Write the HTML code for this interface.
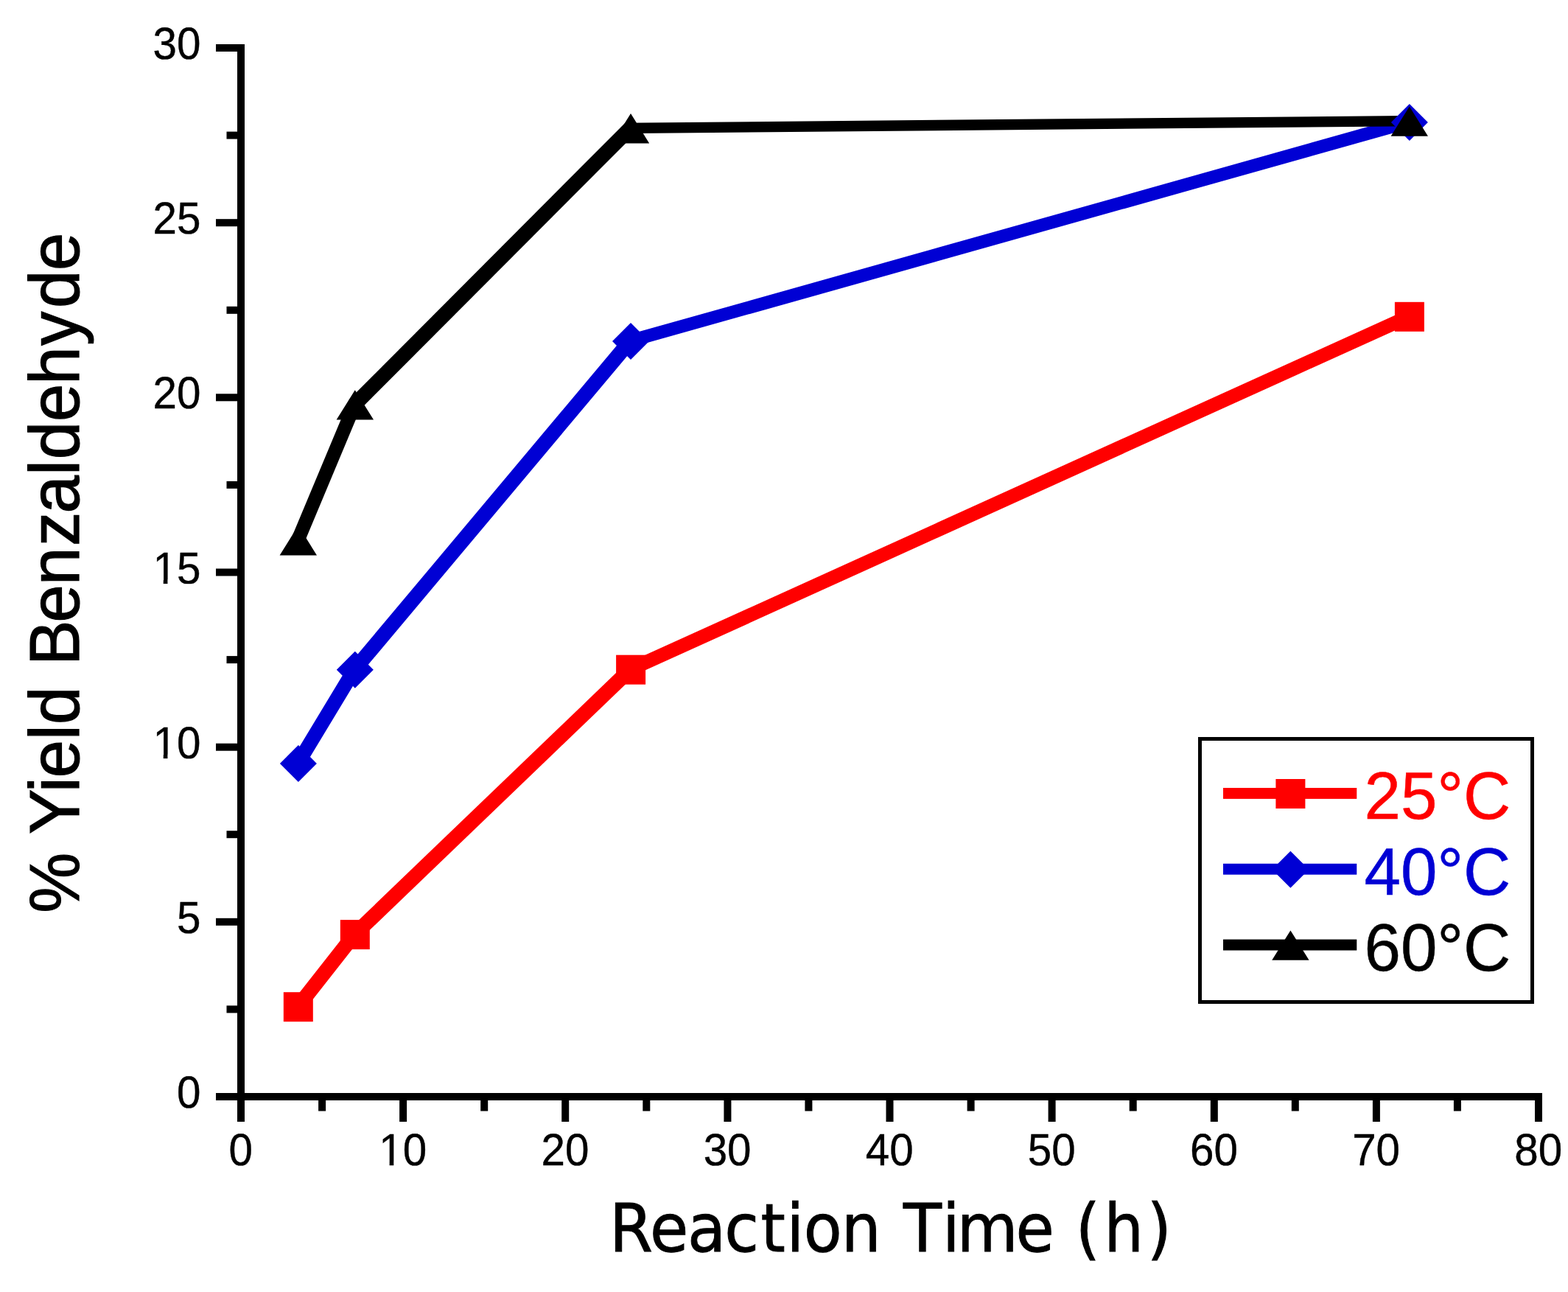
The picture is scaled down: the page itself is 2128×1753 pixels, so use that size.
<!DOCTYPE html>
<html lang="en">
<head>
<meta charset="utf-8">
<title>% Yield Benzaldehyde vs Reaction Time</title>
<style>
html,body{margin:0;padding:0;background:#fff;}
body{width:2128px;height:1753px;overflow:hidden;}
svg{display:block;}
</style>
</head>
<body>
<svg width="2128" height="1753" viewBox="0 0 2128 1753" shape-rendering="geometricPrecision" text-rendering="geometricPrecision">
<rect width="2128" height="1753" fill="#fff"/>
<g id="lines">
<polygon points="397.2,1372.8 397.2,1358.6 474.2,1260.5 488.4,1260.5 488.4,1274.7 411.4,1372.8" fill="#ff0000"/>
<polygon points="474.2,1274.7 474.2,1260.5 848.5,901.1 862.7,901.1 862.7,915.3 488.4,1274.7" fill="#ff0000"/>
<polygon points="848.5,915.3 848.5,901.1 1905.3,422.2 1919.5,422.2 1919.5,436.4 862.7,915.3" fill="#ff0000"/>
<polygon points="397.3,1042.5 397.3,1028.3 474.2,901.1 488.4,901.1 488.4,915.3 411.5,1042.5" fill="#0000d4"/>
<polygon points="474.2,915.3 474.2,901.1 848.4,455.3 862.6,455.3 862.6,469.5 488.4,915.3" fill="#0000d4"/>
<polygon points="848.4,469.5 848.4,455.3 1905.3,158.3 1919.5,158.3 1919.5,172.5 862.6,469.5" fill="#0000d4"/>
<polygon points="397.2,739.9 397.2,725.7 474.2,541.8 488.4,541.8 488.4,556 411.4,739.9" fill="#000000"/>
<polygon points="474.2,556 474.2,541.8 848.4,166.7 862.6,166.7 862.6,180.9 488.4,556" fill="#000000"/>
<polygon points="848.4,180.9 848.4,166.7 1905.2,157 1919.4,157 1919.4,171.2 862.6,180.9" fill="#000000"/>
</g>
<g id="markers">
<rect x="384.8" y="1346.2" width="40" height="40" fill="#ff0000"/>
<rect x="461.8" y="1248.1" width="40" height="40" fill="#ff0000"/>
<rect x="836.1" y="888.7" width="40" height="40" fill="#ff0000"/>
<rect x="1892.9" y="409.8" width="40" height="40" fill="#ff0000"/>
<polygon points="404.9,1010.9 429.9,1035.9 404.9,1060.9 379.9,1035.9" fill="#0000d4"/>
<polygon points="481.8,883.7 506.8,908.7 481.8,933.7 456.8,908.7" fill="#0000d4"/>
<polygon points="856,437.9 881,462.9 856,487.9 831,462.9" fill="#0000d4"/>
<polygon points="1912.9,140.9 1937.9,165.9 1912.9,190.9 1887.9,165.9" fill="#0000d4"/>
<polygon points="404.8,713.1 430,753.5 379.6,753.5" fill="#000000"/>
<polygon points="481.8,529.2 507,569.6 456.6,569.6" fill="#000000"/>
<polygon points="856,154.1 881.2,194.5 830.8,194.5" fill="#000000"/>
<polygon points="1912.8,144.4 1938,184.8 1887.6,184.8" fill="#000000"/>
</g>
<g id="axes" fill="#000">
<rect x="322" y="60" width="10" height="1433"/>
<rect x="293" y="1483" width="1800" height="10"/>
<rect x="307.5" y="1364.4" width="15.5" height="10"/>
<rect x="293" y="1245.8" width="30" height="10"/>
<rect x="307.5" y="1127.2" width="15.5" height="10"/>
<rect x="293" y="1008.7" width="30" height="10"/>
<rect x="307.5" y="890.1" width="15.5" height="10"/>
<rect x="293" y="771.5" width="30" height="10"/>
<rect x="307.5" y="652.9" width="15.5" height="10"/>
<rect x="293" y="534.3" width="30" height="10"/>
<rect x="307.5" y="415.8" width="15.5" height="10"/>
<rect x="293" y="297.2" width="30" height="10"/>
<rect x="307.5" y="178.6" width="15.5" height="10"/>
<rect x="293" y="60" width="30" height="10"/>
<rect x="322" y="1492" width="10" height="30"/>
<rect x="432.1" y="1492" width="10" height="15.5"/>
<rect x="542.1" y="1492" width="10" height="30"/>
<rect x="652.2" y="1492" width="10" height="15.5"/>
<rect x="762.2" y="1492" width="10" height="30"/>
<rect x="872.3" y="1492" width="10" height="15.5"/>
<rect x="982.4" y="1492" width="10" height="30"/>
<rect x="1092.4" y="1492" width="10" height="15.5"/>
<rect x="1202.5" y="1492" width="10" height="30"/>
<rect x="1312.6" y="1492" width="10" height="15.5"/>
<rect x="1422.6" y="1492" width="10" height="30"/>
<rect x="1532.7" y="1492" width="10" height="15.5"/>
<rect x="1642.8" y="1492" width="10" height="30"/>
<rect x="1752.8" y="1492" width="10" height="15.5"/>
<rect x="1862.9" y="1492" width="10" height="30"/>
<rect x="1972.9" y="1492" width="10" height="15.5"/>
<rect x="2083" y="1492" width="10" height="30"/>
</g>
<defs>
<clipPath id="one-end"><rect x="-70" y="-60" width="75" height="55.1"/><rect x="-52.05" y="-5" width="5.8" height="6"/><rect x="-33.4" y="-5" width="36" height="6"/></clipPath>
<clipPath id="one-mid"><rect x="-37" y="-60" width="75" height="55.1"/><rect x="-18.68" y="-5" width="5.8" height="6"/><rect x="0" y="-5" width="36" height="6"/></clipPath>
</defs>
<g id="ticklabels" font-family="'Liberation Sans', sans-serif" font-size="60" fill="#000" stroke="#000" stroke-width="0.4">
<text transform="translate(272.4,1503.1) scale(0.973,1.02)" text-anchor="end">0</text>
<text transform="translate(272.4,1265.9) scale(0.973,1.02)" text-anchor="end">5</text>
<text transform="translate(272.4,1028.8) scale(0.973,1.02)" text-anchor="end" clip-path="url(#one-end)">10</text>
<text transform="translate(272.4,791.6) scale(0.973,1.02)" text-anchor="end" clip-path="url(#one-end)">15</text>
<text transform="translate(272.4,554.4) scale(0.973,1.02)" text-anchor="end">20</text>
<text transform="translate(272.4,317.3) scale(0.973,1.02)" text-anchor="end">25</text>
<text transform="translate(272.4,80.1) scale(0.973,1.02)" text-anchor="end">30</text>
<text transform="translate(326.7,1581.1) scale(0.973,1.02)" text-anchor="middle">0</text>
<text transform="translate(546.8,1581.1) scale(0.973,1.02)" text-anchor="middle" clip-path="url(#one-mid)">10</text>
<text transform="translate(767,1581.1) scale(0.973,1.02)" text-anchor="middle">20</text>
<text transform="translate(987.1,1581.1) scale(0.973,1.02)" text-anchor="middle">30</text>
<text transform="translate(1207.2,1581.1) scale(0.973,1.02)" text-anchor="middle">40</text>
<text transform="translate(1427.3,1581.1) scale(0.973,1.02)" text-anchor="middle">50</text>
<text transform="translate(1647.5,1581.1) scale(0.973,1.02)" text-anchor="middle">60</text>
<text transform="translate(1867.6,1581.1) scale(0.973,1.02)" text-anchor="middle">70</text>
<text transform="translate(2087.7,1581.1) scale(0.973,1.02)" text-anchor="middle">80</text>
</g>
<g id="titles" fill="#000">
<text id="ylabel" transform="translate(106.5,1238.3) rotate(-90) scale(0.9925,1.03)" font-family="'Liberation Sans', sans-serif" font-size="93" stroke="#000" stroke-width="1.2" dx="-0.4 0 0.6 -1.1 -0.7 -0.2 0.6 0 2.8 -3.1 -0.8 1.7 -1.6 0.3 1.1 -0.2 -1 1.7 4.6 -0.3">% Yield Benzaldehyde</text>
<text id="xlabel" transform="translate(827.04,1698.2) scale(0.9235,0.985)" font-family="'DejaVu Sans', 'Liberation Sans', sans-serif" font-size="92" stroke="#000" stroke-width="1.0" dx="0 -0.3 -1.3 -2.1 2.8 1.8 -0.5 -0.9 0 3.6 3.9 -4 -3.4 0 2.15 5.75 5.17">Reaction Time (h)</text>
</g>
<g id="legend">
<rect x="1628.5" y="1002.5" width="451" height="357" fill="#fff" stroke="#000" stroke-width="5"/>
<rect x="1660" y="1069" width="181.3" height="14.9" fill="#ff0000"/>
<rect x="1731.4" y="1057" width="40" height="40" fill="#ff0000"/>
<text transform="translate(1851.4,1111) scale(1,1.022)" font-family="'Liberation Sans', sans-serif" font-size="89" fill="#ff0000" stroke="#ff0000" stroke-width="0.5">25°C</text>
<rect x="1660" y="1171.8" width="181.3" height="14.9" fill="#0000d4"/>
<polygon points="1751.4,1154.7 1776.4,1179.7 1751.4,1204.7 1726.4,1179.7" fill="#0000d4"/>
<text transform="translate(1851.4,1213.7) scale(1,1.022)" font-family="'Liberation Sans', sans-serif" font-size="89" fill="#0000d4" stroke="#0000d4" stroke-width="0.5">40°C</text>
<rect x="1660" y="1274.6" width="181.3" height="14.9" fill="#000000"/>
<polygon points="1751.4,1262.4 1776.6,1302.8 1726.2,1302.8" fill="#000000"/>
<text transform="translate(1851.4,1316.7) scale(1,1.022)" font-family="'Liberation Sans', sans-serif" font-size="89" fill="#000000" stroke="#000000" stroke-width="0.5">60°C</text>
</g>
</svg>
</body>
</html>
